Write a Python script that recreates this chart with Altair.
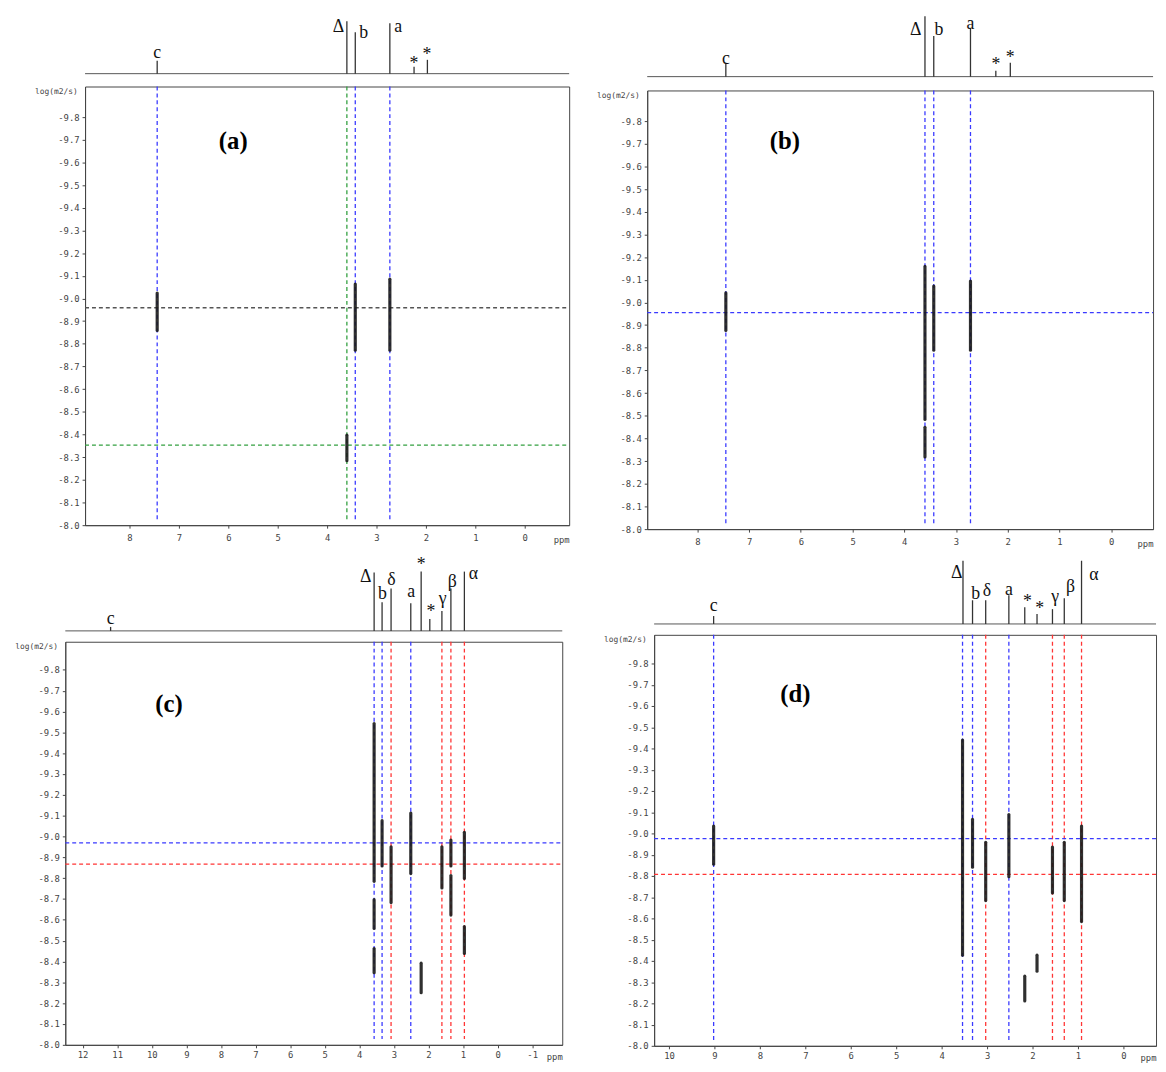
import altair as alt
import pandas as pd

# ---------------- shared axis ticks ----------------
logd_ticks = [-9.8, -9.7, -9.6, -9.5, -9.4, -9.3, -9.2, -9.1, -9.0,
              -8.9, -8.8, -8.7, -8.6, -8.5, -8.4, -8.3, -8.2, -8.1, -8.0]
logd_domain = [-9.935, -8.0]

# ---------------- panel (a) ----------------
a_spec_ppm = [7.44, 3.60, 3.43, 2.73, 2.24, 1.97]
a_spec_int = [13, 53, 42, 51, 7, 14]
a_lab_text = ["c", "Δ", "b", "a", "*", "*"]
a_lab_ppm = [7.44, 3.77, 3.26, 2.56, 2.24, 1.98]
a_lab_int = [21, 47, 41, 47, 10, 19]
a_vline_ppm = [7.44, 3.60, 3.43, 2.73]
a_vline_grp = ["blue", "green", "blue", "blue"]
a_hline_logd = [-8.959, -8.353]
a_hline_grp = ["gray", "green"]
a_peak_ppm = [7.44, 3.43, 2.73, 3.60]
a_peak_lo = [-9.024, -9.064, -9.085, -8.397]
a_peak_hi = [-8.859, -8.772, -8.772, -8.284]
a_xticks = [8, 7, 6, 5, 4, 3, 2, 1, 0]
a_name = ["(a)"]
a_name_ppm = [5.9]
a_name_logd = [-9.695]

# ---------------- panel (b) ----------------
b_spec_ppm = [7.45, 3.60, 3.43, 2.72, 2.23, 1.95]
b_spec_int = [13, 61, 41, 49, 6, 14]
b_lab_text = ["c", "Δ", "b", "a", "*", "*"]
b_lab_ppm = [7.45, 3.78, 3.33, 2.72, 2.23, 1.95]
b_lab_int = [18, 47, 47, 53, 12, 19]
b_vline_ppm = [7.45, 3.60, 3.43, 2.72]
b_vline_grp = ["blue", "blue", "blue", "blue"]
b_hline_logd = [-8.955]
b_hline_grp = ["blue"]
b_peak_ppm = [7.45, 3.60, 3.60, 3.43, 2.72]
b_peak_lo = [-9.042, -9.159, -8.449, -9.072, -9.094]
b_peak_hi = [-8.876, -8.484, -8.318, -8.789, -8.789]
b_xticks = [8, 7, 6, 5, 4, 3, 2, 1, 0]
b_name = ["(b)"]
b_name_ppm = [6.31]
b_name_logd = [-9.713]

# ---------------- panel (c) ----------------
c_spec_ppm = [11.19, 3.57, 3.34, 3.08, 2.51, 2.21, 1.96, 1.61, 1.35, 0.96]
c_spec_int = [4, 59, 29, 43, 28, 60, 12, 20, 43, 60]
c_lab_text = ["c", "Δ", "b", "δ", "a", "*", "*", "γ", "β", "α"]
c_lab_ppm = [11.19, 3.81, 3.33, 3.07, 2.50, 2.21, 1.93, 1.59, 1.31, 0.70]
c_lab_int = [12, 54, 37, 51, 39, 67, 19, 32, 49, 58]
c_vline_ppm = [3.57, 3.34, 3.08, 2.51, 1.61, 1.35, 0.96]
c_vline_grp = ["blue", "blue", "red", "blue", "red", "red", "red"]
c_hline_logd = [-8.970, -8.868]
c_hline_grp = ["blue", "red"]
c_peak_ppm = [3.57, 3.57, 3.57, 3.34, 3.08, 2.51, 2.21, 1.61, 1.35, 1.35, 0.96, 0.96]
c_peak_lo = [-9.542, -8.697, -8.462, -9.076, -8.951, -9.113, -8.392, -8.951, -8.983, -8.813, -9.020, -8.568]
c_peak_hi = [-8.785, -8.559, -8.346, -8.859, -8.683, -8.822, -8.250, -8.753, -8.859, -8.623, -8.799, -8.439]
c_xticks = [12, 11, 10, 9, 8, 7, 6, 5, 4, 3, 2, 1, 0, -1]
c_name = ["(c)"]
c_name_ppm = [9.5]
c_name_logd = [-9.635]

# ---------------- panel (d) ----------------
d_spec_ppm = [9.02, 3.53, 3.32, 3.03, 2.52, 2.17, 1.90, 1.56, 1.30, 0.92]
d_spec_int = [8, 64, 24, 24, 29, 17, 10, 15, 26, 64]
d_lab_text = ["c", "Δ", "b", "δ", "a", "*", "*", "γ", "β", "α"]
d_lab_ppm = [9.02, 3.67, 3.25, 3.00, 2.52, 2.11, 1.84, 1.50, 1.16, 0.65]
d_lab_int = [18, 52, 30, 33, 34, 22, 15, 27, 37, 50]
d_vline_ppm = [9.02, 3.54, 3.32, 3.03, 2.52, 1.56, 1.30, 0.92]
d_vline_grp = ["blue", "blue", "blue", "red", "blue", "red", "red", "red"]
d_hline_logd = [-8.976, -8.807]
d_hline_grp = ["blue", "red"]
d_peak_ppm = [9.02, 3.54, 3.32, 3.03, 2.52, 2.17, 1.90, 1.56, 1.30, 0.92]
d_peak_lo = [-9.035, -9.440, -9.066, -8.958, -9.089, -8.328, -8.427, -8.936, -8.958, -9.035]
d_peak_hi = [-8.855, -8.427, -8.841, -8.684, -8.796, -8.211, -8.351, -8.720, -8.684, -8.585]
d_xticks = [10, 9, 8, 7, 6, 5, 4, 3, 2, 1, 0]
d_name = ["(d)"]
d_name_ppm = [7.22]
d_name_logd = [-9.656]

GRP_DOMAIN = ["blue", "red", "green", "gray"]
GRP_RANGE = ["#3a3aff", "#ff3535", "#33a040", "#555555"]
MONO = "DejaVu Sans Mono"
SERIF = "Liberation Serif"
NOSTROKE = alt.ViewBackground(stroke="transparent")
ASCII_X = "replace(format(datum.value, 'd'), '\u2212', '-')"
ASCII_Y = "replace(format(datum.value, '.1f'), '\u2212', '-')"


def panel(spec_ppm, spec_int, lab_text, lab_ppm, lab_int,
          vl_ppm, vl_grp, hl_logd, hl_grp, pk_ppm, pk_lo, pk_hi,
          xticks, name, name_ppm, name_logd,
          xdom, w, spec_h, spec_dom, dosy_h, lab_pad, title_y):
    xscale = alt.Scale(domain=xdom, reverse=True, nice=False, zero=False)
    sscale = alt.Scale(domain=spec_dom, nice=False, zero=False)

    spec_df = pd.DataFrame({"ppm": spec_ppm, "int": spec_int})
    spec_df["zero"] = 0
    base_df = pd.DataFrame({"zero": [0]})
    lab_df = pd.DataFrame({"ppm": lab_ppm, "int": lab_int, "t": lab_text})

    baseline = alt.Chart(base_df).mark_rule(color="#555", strokeWidth=1).encode(
        x=alt.value(0), x2=alt.value(w),
        y=alt.Y("zero:Q", scale=sscale, axis=None))
    peaks = alt.Chart(spec_df).mark_rule(color="#333", strokeWidth=1.3).encode(
        x=alt.X("ppm:Q", scale=xscale, axis=None),
        y=alt.Y("zero:Q", scale=sscale, axis=None),
        y2=alt.Y2("int:Q"))
    labels = alt.Chart(lab_df).mark_text(font=SERIF, fontSize=18, color="#111",
                                         baseline="middle", align="center").encode(
        x=alt.X("ppm:Q", scale=xscale, axis=None),
        y=alt.Y("int:Q", scale=sscale, axis=None),
        text="t:N")
    spectrum = alt.layer(baseline, peaks, labels).properties(
        width=w, height=spec_h, view=NOSTROKE)

    xaxis = alt.Axis(values=xticks, labelExpr=ASCII_X, title="ppm", grid=False,
                     labelPadding=lab_pad, tickSize=3,
                     titleAnchor="end", titleAlign="right", titleBaseline="middle",
                     titleX=w, titleY=title_y, titleFont=MONO, titleFontSize=9,
                     titleFontWeight="normal", titleColor="#444")
    yscale = alt.Scale(domain=logd_domain, reverse=True, nice=False, zero=False)
    yaxis = alt.Axis(values=logd_ticks, labelExpr=ASCII_Y, title="log(m2/s)", grid=False,
                     tickSize=3, labelPadding=3,
                     titleAngle=0, titleAlign="right", titleBaseline="middle",
                     titleX=-8, titleY=5, titleFont=MONO, titleFontSize=8,
                     titleFontWeight="normal", titleColor="#444")
    X = alt.X("ppm:Q", scale=xscale, axis=xaxis)
    cscale = alt.Scale(domain=GRP_DOMAIN, range=GRP_RANGE)

    vl_df = pd.DataFrame({"ppm": vl_ppm, "grp": vl_grp})
    hl_df = pd.DataFrame({"logd": hl_logd, "grp": hl_grp})
    pk_df = pd.DataFrame({"ppm": pk_ppm, "lo": pk_lo, "hi": pk_hi})
    nm_df = pd.DataFrame({"ppm": name_ppm, "logd": name_logd, "t": name})

    vlines = alt.Chart(vl_df).mark_rule(strokeDash=[4, 3], strokeWidth=1.3).encode(
        x=X, y=alt.value(0), y2=alt.value(dosy_h - 6),
        color=alt.Color("grp:N", scale=cscale, legend=None))
    hlines = alt.Chart(hl_df).mark_rule(strokeDash=[4, 3], strokeWidth=1.3).encode(
        y=alt.Y("logd:Q", scale=yscale, axis=yaxis),
        x=alt.value(0), x2=alt.value(w),
        color=alt.Color("grp:N", scale=cscale, legend=None))
    cross = alt.Chart(pk_df).mark_rule(color="#1a1a1a", strokeWidth=3.2,
                                       strokeCap="round", opacity=0.9).encode(
        x=X, y=alt.Y("lo:Q", scale=yscale, axis=yaxis), y2=alt.Y2("hi:Q"))
    nm = alt.Chart(nm_df).mark_text(font=SERIF, fontSize=25, fontWeight="bold",
                                    color="#000", baseline="middle").encode(
        x=X, y=alt.Y("logd:Q", scale=yscale, axis=yaxis), text="t:N")
    dosy = alt.layer(vlines, hlines, cross, nm).properties(width=w, height=dosy_h)

    return alt.vconcat(spectrum, dosy, spacing=5)


def spacer(width):
    return alt.Chart(pd.DataFrame({"v": [0]})).mark_point(size=0, opacity=0).encode(
        x=alt.X("v:Q", axis=None), y=alt.Y("v:Q", axis=None)
    ).properties(width=width, height=10, view=NOSTROKE)


A = panel(a_spec_ppm, a_spec_int, a_lab_text, a_lab_ppm, a_lab_int,
          a_vline_ppm, a_vline_grp, a_hline_logd, a_hline_grp,
          a_peak_ppm, a_peak_lo, a_peak_hi, a_xticks, a_name, a_name_ppm, a_name_logd,
          [-0.9, 8.9], 490, 61, [-5, 56], 444, 6, 15)
B = panel(b_spec_ppm, b_spec_int, b_lab_text, b_lab_ppm, b_lab_int,
          b_vline_ppm, b_vline_grp, b_hline_logd, b_hline_grp,
          b_peak_ppm, b_peak_lo, b_peak_hi, b_xticks, b_name, b_name_ppm, b_name_logd,
          [-0.81, 8.97], 512, 65, [-6, 59], 444, 6, 15)
C = panel(c_spec_ppm, c_spec_int, c_lab_text, c_lab_ppm, c_lab_int,
          c_vline_ppm, c_vline_grp, c_hline_logd, c_hline_grp,
          c_peak_ppm, c_peak_lo, c_peak_hi, c_xticks, c_name, c_name_ppm, c_name_logd,
          [-1.87, 12.5], 503, 84, [-3, 81], 408, 3, 12)
D = panel(d_spec_ppm, d_spec_int, d_lab_text, d_lab_ppm, d_lab_int,
          d_vline_ppm, d_vline_grp, d_hline_logd, d_hline_grp,
          d_peak_ppm, d_peak_lo, d_peak_hi, d_xticks, d_name, d_name_ppm, d_name_logd,
          [-0.72, 10.33], 508, 77, [-3, 74], 416, 3, 12)

row1 = alt.hconcat(spacer(21), A, spacer(23), B, spacing=0)
row2 = alt.hconcat(spacer(1), C, spacer(37), D, spacing=0)

chart = alt.vconcat(row1, row2, spacing=0).properties(
    padding={"left": 3, "top": 0, "right": 0, "bottom": 0}
).configure_view(stroke="#444", strokeWidth=1).configure_axis(
    labelFont=MONO, labelFontSize=9, labelColor="#444",
    tickColor="#444", domainColor="#444", domainWidth=1
)

chart.save("out.html", embed_options={"renderer": "svg", "actions": False})
